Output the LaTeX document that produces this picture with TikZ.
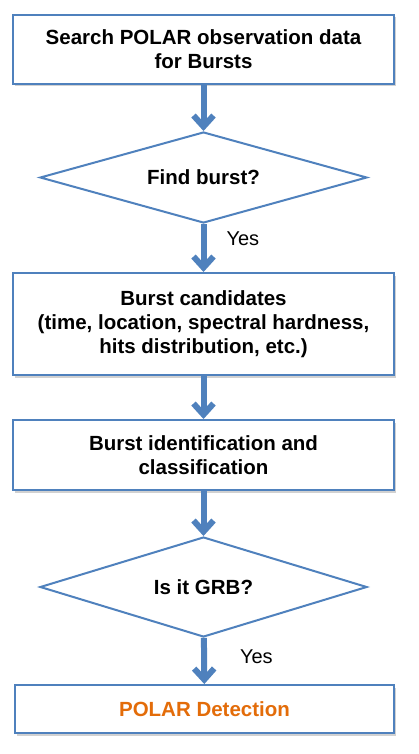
\documentclass[tikz,border=0pt]{standalone}
\usepackage{fontspec}
\setmainfont{Liberation Sans}
\usetikzlibrary{arrows.meta,shapes.geometric,shadows}
\definecolor{obl}{RGB}{79,129,189}
\definecolor{oor}{RGB}{227,108,9}
\tikzset{
  box/.style={draw=obl, line width=2pt, fill=white, minimum width=381pt, inner sep=0pt,
    align=center, font=\bfseries\fontsize{20.5}{24}\selectfont,
    drop shadow={shadow xshift=2pt, shadow yshift=-2.5pt, opacity=0.18, fill=black}},
  dec/.style={draw=obl, line width=2pt, fill=white, diamond, inner sep=0pt, aspect=3.6,
    minimum width=327pt, minimum height=91pt, font=\bfseries\fontsize{20.5}{24}\selectfont},
  arr/.style={draw=obl, line width=6pt, -{Straight Barb[length=11pt,width=20pt]}},
  yeslbl/.style={font=\fontsize{20}{23}\selectfont, anchor=west, inner sep=0pt}
}
\begin{document}
\begin{tikzpicture}[x=1pt,y=-1pt]
\useasboundingbox (0,0) rectangle (418,754);
\node[box, minimum height=69pt] (b1) at (203.5,49.5) {Search POLAR observation data\\for Bursts};
\node[dec] (d1) at (203.5,177.5) {Find burst?};
\node[box, minimum height=102pt] (b2) at (203.5,324) {Burst candidates\\(time, location, spectral hardness,\\hits distribution, etc.)};
\node[box, minimum height=70pt] (b3) at (203.5,455) {Burst identification and\\classification};
\node[dec, minimum height=100pt] (d2) at (203.5,587) {Is it GRB?};
\node[box, minimum height=48pt, minimum width=379pt, text=oor] (b4) at (204.5,709) {POLAR Detection};
\draw[arr] (b1) -- (d1);
\draw[arr] (d1) -- node[yeslbl, pos=0.3, xshift=20pt] {Yes} (b2);
\draw[arr] (b2) -- (b3);
\draw[arr] (b3) -- (d2);
\draw[arr] (d2) -- node[yeslbl, pos=0.4, xshift=33pt] {Yes} (b4);
\end{tikzpicture}
\end{document}
